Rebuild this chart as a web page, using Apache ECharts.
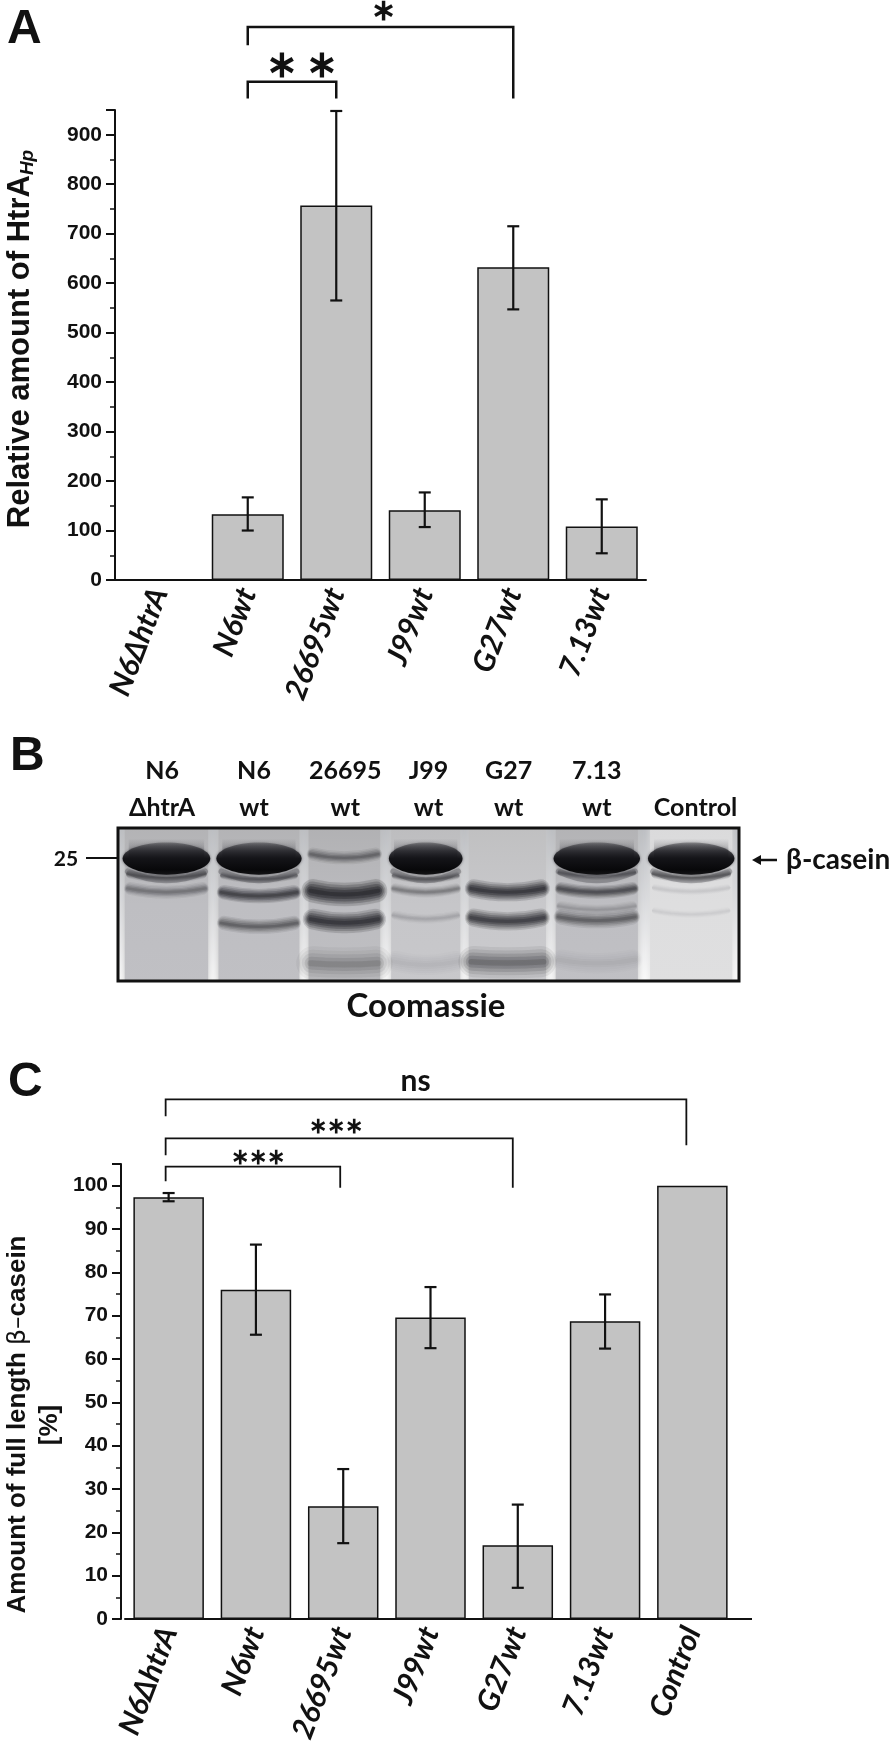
<!DOCTYPE html>
<html><head><meta charset="utf-8">
<style>html,body{margin:0;padding:0;background:#fff}#c{width:894px;height:1755px}</style>
<script src="https://cdn.jsdelivr.net/npm/echarts@6/dist/echarts.min.js"></script>
</head><body><div id="c"></div>
<script>
// Panel A
const catsA = ['N6ΔhtrA','N6wt','26695wt','J99wt','G27wt','7.13wt'];
const valsA = [0,133,757,141,632,108];
const lowA  = [null,100,565,107,547,54];
const highA = [null,167,948,177,715,163];
// from, to, top, left foot end, right foot end
const bracketsA = [[1,2,1007,973,973],[1,4,1118,1081,973]];
// anchor category, value height, text
const bracketLabelsA = [[1,1038,'∗\u2009∗'],[1,1149,'∗']];
// Panel C
const catsC = ['N6ΔhtrA','N6wt','26695wt','J99wt','G27wt','7.13wt','Control'];
const valsC = [97.3,76,26,69.6,17,68.7,100];
const lowC  = [96.4,65.6,17.5,62.5,7.2,62.4,null];
const highC = [98.3,86.4,34.6,76.6,26.4,74.9,null];
const bracketsC = [[0,6,119.9,116,109.3],[0,4,110.9,107,99.5],[0,2,104.4,101,99.5]];
const bracketLabelsC = [[0,124,'ns'],[0,113.5,'∗∗∗'],[0,106.5,'∗∗∗']];
// Panel B (gel): lane labels, lane centres, lane widths (percent of gel), bands [lane, migration %, thickness %, darkness]
const laneTop = ['N6','N6','26695','J99','G27','7.13',''];
const laneBottom = ['ΔhtrA','wt','wt','wt','wt','wt','Control'];
const laneLabelX = [7.1,21.9,36.6,50,62.9,77.1,93];
const laneX = [7.8,22.7,36.45,49.55,62.7,77.1,92.3];
const laneW = [14.4,14,12.5,12.1,13.4,14.2,14.2];
const laneShade = [0.24,0.24,0.25,0.2,0.19,0.24,0.08];
const mainBands = [0,1,3,5,6];
const gelBands = [
 [0,32,3.5,.5],[0,41.5,5,.38],
 [1,33,3,.45],[1,44,5.5,.75],[1,64,5.5,.5],
 [2,19,5,.45],[2,43,9,1],[2,61.5,8,.9],[2,89,13,.28],
 [3,33,3,.45],[3,41.5,4,.35],[3,59,3.5,.15],[3,89,8,.07],
 [4,41.5,7,.9],[4,60.5,7,.8],[4,88,12,.45],
 [5,31,3,.45],[5,41.5,5,.65],[5,53,4,.2],[5,60,6,.5],[5,88,8,.08],
 [6,32,3.5,.5],[6,41,3,.08],[6,56,3,.06]
];

const AR='"Liberation Sans",Arial,sans-serif', LA='Lato,"Noto Sans",sans-serif';
const ink='#111';

function yAxis(idx,o){return Object.assign({type:'value',gridIndex:idx,min:0,splitLine:{show:false},
  axisLine:{show:true,onZero:false,lineStyle:{color:ink,width:2}},
  axisTick:{show:true,length:9,lineStyle:{color:ink,width:2}},
  minorTick:{show:true,splitNumber:2,length:5,lineStyle:{color:ink,width:1.5}},
  axisLabel:{color:ink,fontFamily:AR,fontWeight:'bold',fontSize:21,margin:13,showMaxLabel:false}},o);}
function xAxis(idx,cats,o){return Object.assign({type:'category',gridIndex:idx,data:cats,
  axisLine:{show:true,lineStyle:{color:ink,width:2}},axisTick:{show:false},
  axisLabel:{rotate:69,color:ink,fontFamily:LA,fontWeight:'bold',fontStyle:'italic',fontSize:30,margin:9,interval:0}},o);}
function barSeries(i,vals,w){return {type:'bar',xAxisIndex:i,yAxisIndex:i,data:vals,barWidth:w,
  itemStyle:{color:'#c3c3c3',borderColor:'#111',borderWidth:1.5},z:2};}
function errSeries(i,low,high){return {type:'custom',xAxisIndex:i,yAxisIndex:i,z:3,clip:false,
  data:low.map((l,k)=>[k,l,high[k]]).filter(d=>d[1]!=null),encode:{x:0,y:[1,2]},
  renderItem(p,api){const a=api.coord([api.value(0),api.value(1)]),b=api.coord([api.value(0),api.value(2)]);
    const st={stroke:ink,lineWidth:2.2,fill:null};const c=6;
    return {type:'group',children:[
      {type:'line',shape:{x1:a[0],y1:a[1],x2:b[0],y2:b[1]},style:st},
      {type:'line',shape:{x1:a[0]-c,y1:a[1],x2:a[0]+c,y2:a[1]},style:st},
      {type:'line',shape:{x1:b[0]-c,y1:b[1],x2:b[0]+c,y2:b[1]},style:st}]};}};}
function brSeries(i,br,lw,dx,ends){return {type:'custom',xAxisIndex:i,yAxisIndex:i,z:4,clip:false,silent:true,
  data:br,encode:{y:[2,3,4]},
  renderItem(p,api){const f=api.value(0),t=api.value(1),top=api.value(2),l=api.value(3),r=api.value(4);
    const A=api.coord([f,top]),B=api.coord([t,top]),C=api.coord([f,l]),D=api.coord([t,r]);
    const e=ends[p.dataIndex];
    return {type:'polyline',shape:{points:[[C[0]+dx,C[1]],[A[0]+dx,A[1]],[B[0]+e,B[1]],[D[0]+e,D[1]]]},
      style:{stroke:ink,lineWidth:lw,fill:null}};}};}
function brLabelSeries(i,labs,offs,fonts){return {type:'custom',xAxisIndex:i,yAxisIndex:i,z:4,clip:false,silent:true,
  data:labs.map(d=>[d[0],d[1]]),encode:{y:1},
  renderItem(p,api){const d=labs[p.dataIndex];const q=api.coord([d[0],d[1]]);
    return {type:'text',style:{x:q[0]+offs[p.dataIndex],y:q[1],text:d[2],align:'center',verticalAlign:'middle',fill:ink,
      font:fonts[p.dataIndex]}};}};}

const gelBase={type:'custom',xAxisIndex:1,yAxisIndex:1,z:1,clip:true,silent:true,data:[[0,0]],encode:{x:0,y:1},
  renderItem(p,api){const a=api.coord([0,0]),b=api.coord([100,100]);
    return {type:'rect',shape:{x:a[0],y:a[1],width:b[0]-a[0],height:b[1]-a[1]},
      style:{fill:{type:'linear',x:0,y:0,x2:0,y2:1,colorStops:[{offset:0,color:'#bcbec2'},{offset:.45,color:'#d8d9dc'},{offset:1,color:'#fbfbfb'}]}}};}};
const gelLanes={type:'custom',xAxisIndex:1,yAxisIndex:1,z:1,clip:true,silent:true,
  data:laneX.map((x,k)=>[x,laneW[k],laneShade[k]]),encode:{x:0},
  renderItem(p,api){const x=api.value(0),w=api.value(1),s=api.value(2);
    const a=api.coord([x-w/2,0]),b=api.coord([x+w/2,100]);
    const g=s=>Math.round(238-s*200);
    return {type:'rect',shape:{x:a[0]+3,y:a[1]-8,width:b[0]-a[0]-6,height:b[1]-a[1]+16},
      style:{fill:{type:'linear',x:0,y:0,x2:0,y2:1,colorStops:[
        {offset:0,color:`rgb(${g(s*1.25)},${g(s*1.25)},${g(s*1.2)})`},
        {offset:.5,color:`rgb(${g(s)},${g(s)},${g(s*.92)})`},
        {offset:1,color:`rgb(${g(s*.95)},${g(s*.95)},${g(s*.88)})`}]},
        shadowBlur:7,shadowColor:`rgb(${g(s)},${g(s)},${g(s)})`}};}};
const gelBandSeries={type:'custom',xAxisIndex:1,yAxisIndex:1,z:2,clip:true,silent:true,
  data:gelBands.map(b=>[laneX[b[0]],b[1],b[2],b[3],laneW[b[0]]]),encode:{x:0,y:1},
  renderItem(p,api){const x=api.value(0),y=api.value(1),h=api.value(2),d=api.value(3),w=api.value(4);
    const c=api.coord([x,y]),e=api.coord([x+w/2,y+h/2]);
    const rx=(e[0]-c[0])*.84,lw=(e[1]-c[1])*2,sag=h>10?1:3;
    // soft band: nested strokes of rising density
    const layers=[[1.7,.16],[1.35,.2],[1,.26],[.65,.32],[.3,.36]];
    return {type:'group',children:layers.map(L=>{const col=`rgba(28,28,34,${L[1]*d})`;return {type:'bezierCurve',
      shape:{x1:c[0]-rx*(1.06-L[0]*.06),y1:c[1]-sag,x2:c[0]+rx*(1.06-L[0]*.06),y2:c[1]-sag,cpx1:c[0],cpy1:c[1]+sag*1.5},
      style:{fill:null,stroke:col,lineWidth:lw*L[0],lineCap:'round',shadowBlur:3,shadowColor:col}};})};}};
const gelMain={type:'custom',xAxisIndex:1,yAxisIndex:1,z:3,clip:true,silent:true,
  data:mainBands.map(k=>[laneX[k],20,10.5,laneW[k]]),encode:{x:0,y:1},
  renderItem(p,api){const x=api.value(0),y=api.value(1),h=api.value(2),w=api.value(3);
    const c=api.coord([x,y]),e=api.coord([x+w/2,y+h]);
    const rx=(e[0]-c[0])*.98,ry=e[1]-c[1];
    return {type:'group',children:[
      {type:'bezierCurve',shape:{x1:c[0]-rx*.88,y1:c[1]+ry*.8,x2:c[0]+rx*.88,y2:c[1]+ry*.8,cpx1:c[0],cpy1:c[1]+ry*1.9},
        style:{fill:null,stroke:'rgba(50,50,56,.3)',lineWidth:6,lineCap:'round',shadowBlur:2,shadowColor:'rgba(50,50,56,.3)'}},
      {type:'rect',shape:{x:c[0]-rx*.86,y:c[1]-ry*1.25,width:rx*1.72,height:ry*1.25},style:{
        fill:{type:'linear',x:0,y:0,x2:0,y2:1,colorStops:[{offset:0,color:'rgba(60,60,66,0)'},{offset:.55,color:'rgba(60,60,66,.25)'},{offset:1,color:'rgba(40,40,46,.8)'}]},
        shadowBlur:6,shadowColor:'rgba(60,60,66,.3)'}},
      {type:'ellipse',shape:{cx:c[0],cy:c[1],rx:rx,ry:ry},style:{
        fill:{type:'linear',x:0,y:0,x2:0,y2:1,colorStops:[{offset:0,color:'rgba(45,45,50,.35)'},{offset:.25,color:'rgba(35,35,40,.75)'},{offset:.5,color:'#141418'},{offset:.85,color:'#08080a'},{offset:1,color:'#141416'}]},
        shadowBlur:3,shadowColor:'rgba(30,30,36,.6)'}}]};}};
const gelFrame={type:'custom',xAxisIndex:1,yAxisIndex:1,z:5,clip:false,silent:true,data:[[0,0]],encode:{x:0,y:1},
  renderItem(p,api){const a=api.coord([0,0]),b=api.coord([100,100]);
    return {type:'rect',shape:{x:a[0],y:a[1],width:b[0]-a[0],height:b[1]-a[1]},style:{fill:null,stroke:ink,lineWidth:3}};}};
const gelLabels={type:'custom',xAxisIndex:1,yAxisIndex:1,z:5,clip:false,silent:true,
  data:laneLabelX.map((x,k)=>[x,k]),encode:{x:0},
  renderItem(p,api){const k=p.dataIndex;const q=api.coord([laneLabelX[k],0]);
    const f='bold 25px '+LA;
    return {type:'group',children:[
      {type:'text',style:{x:q[0],y:q[1]-57,text:laneTop[k],align:'center',verticalAlign:'middle',fill:ink,font:f}},
      {type:'text',style:{x:q[0],y:q[1]-20,text:laneBottom[k],align:'center',verticalAlign:'middle',fill:ink,font:f}}]};}};

function txt(x,y,t,size,fam,align){return {type:'text',x:x,y:y,z:10,
  style:{text:t,font:'bold '+size+'px '+(fam||AR),fill:ink,align:align||'left',verticalAlign:'middle'}};}
function seg(x1,y1,x2,y2,w){return {type:'line',z:10,shape:{x1,y1,x2,y2},style:{stroke:ink,lineWidth:w||2}};}

const chart=echarts.init(document.getElementById('c'),null,{renderer:'canvas'});
chart.setOption({
  animation:false,backgroundColor:'#fff',
  grid:[
    {left:115,top:110,width:531,height:470,outerBoundsMode:'none'},
    {left:118,top:828,width:621,height:153,outerBoundsMode:'none'},
    {left:125,top:1164,width:611,height:455,outerBoundsMode:'none'}
  ],
  xAxis:[
    xAxis(0,catsA),
    {type:'value',gridIndex:1,min:0,max:100,show:false},
    xAxis(2,catsC)
  ],
  yAxis:[
    yAxis(0,{max:950,interval:100,name:'{m|Relative amount of HtrA}{s|Hp}',nameLocation:'middle',nameGap:78,
      nameRotate:90,nameTextStyle:{padding:[0,0,0,12],rich:{m:{fontFamily:AR,fontWeight:'bold',fontSize:31,color:ink},
        s:{fontFamily:AR,fontStyle:'italic',fontWeight:'bold',fontSize:19,color:ink,verticalAlign:'bottom',padding:[14,0,0,0]}}}}),
    {type:'value',gridIndex:1,min:0,max:100,inverse:true,show:false},
    yAxis(2,{max:105,interval:10,offset:4,name:'{m|Amount of full length }{b|β–}{m|casein}',nameLocation:'middle',nameGap:90,
      nameRotate:90,nameTextStyle:{padding:[0,66,0,0],rich:{m:{fontFamily:AR,fontWeight:'bold',fontSize:26,color:ink},
        b:{fontFamily:'"DejaVu Sans"',fontSize:25,color:ink}}}})
  ],
  series:[
    barSeries(0,valsA,72),errSeries(0,lowA,highA),brSeries(0,bracketsA,2.5,0,[0,0]),
    brLabelSeries(0,bracketLabelsA,[54,136],['bold 38px '+AR,'bold 30px '+AR]),
    gelBase,gelLanes,gelBandSeries,gelMain,gelFrame,gelLabels,
    barSeries(2,valsC,70.5),errSeries(2,lowC,highC),brSeries(2,bracketsC,1.8,-3,[-6,-5,-3]),
    brLabelSeries(2,bracketLabelsC,[247,167,89],['bold 30px '+LA,'bold 22px '+AR,'bold 22px '+AR])
  ],
  graphic:[
    txt(7,30,'A',48),txt(10,757,'B',48),txt(8,1083,'C',48),
    seg(736,1619,752,1619,2),
    txt(66,859,'25',21,LA,'center'),seg(86,858,118,858,2),
    seg(757,860,777,860,2.5),
    {type:'polygon',z:10,shape:{points:[[752,860],[761,855],[761,865]]},style:{fill:ink}},
    txt(786,860,'β-casein',28,LA),
    txt(426,1006,'Coomassie',33,LA,'center'),
    {type:'text',x:50,y:1425,rotation:Math.PI/2,z:10,style:{text:'[%]',font:'bold 26px '+AR,fill:ink,align:'center',verticalAlign:'middle'}}
  ]
});
</script></body></html>
